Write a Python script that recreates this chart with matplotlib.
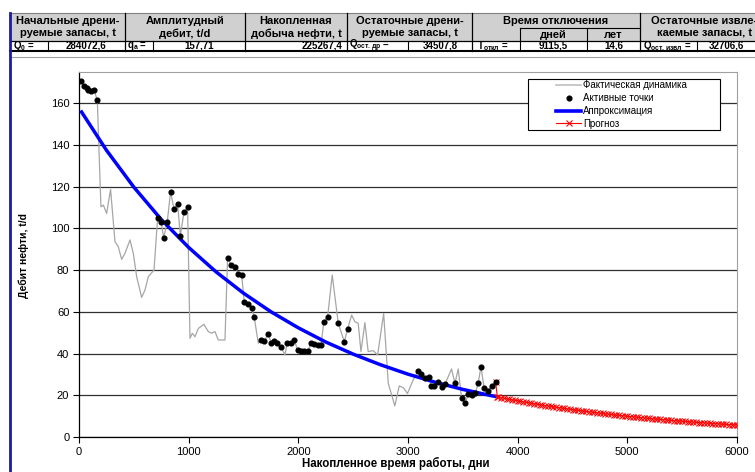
import numpy as np
import matplotlib.pyplot as plt
from matplotlib.lines import Line2D
from matplotlib.patches import Rectangle

plt.rcParams['font.family'] = ['Liberation Sans', 'DejaVu Sans']
plt.rcParams['mathtext.fontset'] = 'custom'
plt.rcParams['mathtext.rm'] = 'Liberation Sans'
plt.rcParams['mathtext.it'] = 'Liberation Sans:italic'
plt.rcParams['mathtext.bf'] = 'Liberation Sans:bold'

# фактическая динамика (сутки, т/сут)
fact_days = [15, 45, 70, 85, 109, 137, 167, 200, 222, 252, 288, 328, 358, 389, 419, 465,
             495, 526, 571, 602, 632, 684, 717, 750, 772, 805, 835, 866, 899, 924, 957, 990,
             1012, 1033, 1057, 1088, 1139, 1179, 1209, 1240, 1270, 1331, 1355, 1386, 1422,
             1453, 1483, 1507, 1541, 1574, 1598, 1635, 1659, 1689, 1726, 1750, 1777, 1808,
             1841, 1878, 1899, 1930, 1963, 1993, 2024, 2054, 2090, 2115, 2145, 2176, 2206,
             2233, 2267, 2309, 2364, 2419, 2449, 2486, 2516, 2546, 2571, 2607, 2637, 2683,
             2723, 2778, 2820, 2880, 2920, 2960, 2995, 3047, 3090, 3122, 3154, 3188, 3212,
             3240, 3276, 3306, 3339, 3397, 3428, 3458, 3489, 3522, 3549, 3580, 3613, 3640,
             3665, 3695, 3729, 3762, 3798]
fact_rate = [170.7, 168.3, 167.0, 166.2, 165.9, 166.2, 161.3, 110.3, 111.1, 107.1, 118.6, 93.6,
             91.2, 85.1, 88.0, 94.4, 88.0, 76.8, 66.9, 70.4, 76.8, 80.0, 105.1, 102.8, 95.3,
             103.2, 117.5, 109.2, 111.8, 96.4, 107.6, 110.0, 47.3, 49.7, 48.0, 52.0, 54.0, 50.5,
             49.7, 50.5, 46.5, 46.5, 85.9, 82.2, 81.3, 78.1, 77.8, 64.5, 63.7, 61.6, 57.3, 44.9,
             46.5, 46.0, 49.3, 45.2, 46.0, 44.9, 43.3, 39.3, 45.2, 45.2, 46.5, 41.7, 41.4, 41.2,
             41.4, 44.9, 44.4, 44.1, 43.9, 55.2, 57.6, 77.6, 54.5, 45.7, 51.7, 58.4, 55.2, 54.5,
             40.9, 54.8, 40.9, 41.4, 39.3, 59.2, 25.7, 14.9, 24.5, 23.5, 20.8, 27.3, 31.6, 30.3,
             28.5, 28.9, 24.4, 24.4, 26.4, 24.1, 25.5, 32.6, 25.7, 32.6, 18.5, 16.1, 20.8, 20.0,
             20.9, 25.7, 33.7, 23.3, 22.2, 24.5, 26.5]

# активные точки
active_days = [15, 45, 70, 85, 109, 137, 167, 717, 750, 772, 805, 835, 866, 899, 924, 957, 990,
               1355, 1386, 1422, 1453, 1483, 1507, 1541, 1574, 1598, 1659, 1689, 1726, 1750,
               1777, 1808, 1841, 1899, 1930, 1963, 1993, 2024, 2054, 2090, 2115, 2145, 2176,
               2206, 2233, 2267, 2364, 2419, 2449, 3090, 3122, 3154, 3188, 3212, 3240, 3276,
               3306, 3339, 3428, 3489, 3522, 3549, 3580, 3613, 3640, 3665, 3695, 3729, 3762, 3798]
active_rate = [170.7, 168.3, 167.0, 166.2, 165.9, 166.2, 161.3, 105.1, 102.8, 95.3, 103.2, 117.5,
               109.2, 111.8, 96.4, 107.6, 110.0, 85.9, 82.2, 81.3, 78.1, 77.8, 64.5, 63.7, 61.6,
               57.3, 46.5, 46.0, 49.3, 45.2, 46.0, 44.9, 43.3, 45.2, 45.2, 46.5, 41.7, 41.4, 41.2,
               41.4, 44.9, 44.4, 44.1, 43.9, 55.2, 57.6, 54.5, 45.7, 51.7, 31.6, 30.3, 28.5, 28.9,
               24.4, 24.4, 26.4, 24.1, 25.5, 25.7, 18.5, 16.1, 20.8, 20.0, 20.9, 25.7, 33.7, 23.3,
               22.2, 24.5, 26.5]

# аппроксимация
approx_days = [15, 250, 500, 750, 1000, 1250, 1500, 1750, 2000, 2250, 2500, 2750, 3000, 3250,
               3500, 3750, 3810]
approx_rate = [156.4, 137.4, 119.7, 104.2, 90.8, 79.1, 68.9, 60.0, 52.3, 45.5, 39.7, 34.6, 30.1,
               26.2, 22.8, 19.9, 19.3]

# прогноз (шаг 25 сут)
fc_days = [3798, 3815] + list(range(3825, 6001, 25))
fc_rate = [26.5, 19.2,
           19.09, 18.83, 18.57, 18.31, 18.06, 17.81, 17.57, 17.32, 17.08, 16.85, 16.62, 16.39,
           16.17, 15.94, 15.72, 15.50, 15.29, 15.08, 14.87, 14.66, 14.46, 14.26, 14.06, 13.87,
           13.68, 13.49, 13.30, 13.12, 12.94, 12.76, 12.58, 12.41, 12.24, 12.07, 11.90, 11.74,
           11.58, 11.42, 11.26, 11.11, 10.95, 10.80, 10.65, 10.51, 10.36, 10.22, 10.08, 9.94,
           9.80, 9.67, 9.53, 9.40, 9.27, 9.14, 9.02, 8.89, 8.77, 8.65, 8.53, 8.41, 8.30, 8.18,
           8.07, 7.96, 7.85, 7.74, 7.63, 7.53, 7.43, 7.32, 7.22, 7.12, 7.03, 6.93, 6.83, 6.74,
           6.65, 6.55, 6.46, 6.37, 6.29, 6.20, 6.11, 6.03, 5.95, 5.86, 5.78, 5.70]

# шапка таблицы
head_titles = [("Начальные дрени-", "руемые запасы, t"), ("Амплитудный", "дебит, t/d"),
               ("Накопленная", "добыча нефти, t"), ("Остаточные дрени-", "руемые запасы, t"),
               ("Время отключения", ""), ("Остаточные извле-", "каемые запасы, t")]
head_centers = [67.5, 185, 296, 409.5, 556, 704.5]
value_labels = [r"Q$_\mathbf{0}$ =", r"q$_\mathbf{a}$ =", r"Q$_\mathbf{ост.др}$ =",
                r"T$_\mathbf{откл}$ =", r"Q$_\mathbf{ост.извл}$ ="]
value_label_x = [13, 127, 349, 477, 643]
values = ["284072,6", "157,71", "225267,4", "34507,8", "9115,5", "14,6", "32706,6"]
values_x = [86.5, 199, 343, 440, 553.5, 613.5, 726]

W, H = 755, 472
fig = plt.figure(figsize=(W / 100, H / 100), dpi=100)


def fx(px):
    return px / W


def fy(py):
    return 1 - py / H


def hline(y, x0, x1, **kw):
    fig.add_artist(Line2D([fx(x0), fx(x1)], [fy(y), fy(y)], **kw))


def vline(x, y0, y1, **kw):
    fig.add_artist(Line2D([fx(x), fx(x)], [fy(y0), fy(y1)], **kw))


# таблица
fig.add_artist(Rectangle((fx(10), fy(41)), fx(755) - fx(10), fy(13) - fy(41),
                         facecolor='#d0d0d0', edgecolor='none'))
hline(13, 10, 755, color='#808080', lw=0.8)
hline(41, 10, 755, color='black', lw=0.9)
hline(50.5, 10, 755, color='black', lw=1.5)
hline(28, 520, 640, color='black', lw=0.8)
for x in [125, 245, 347, 472, 640]:
    vline(x, 13, 50.5, color='black', lw=0.9)
for x in [48, 153, 408, 697]:
    vline(x, 41, 50.5, color='black', lw=0.8)
vline(520, 28, 50.5, color='black', lw=0.8)
vline(587, 28, 50.5, color='black', lw=0.8)
hline(57, 11, 755, color='#a0a0a0', lw=0.8)
vline(10, 13, 472, color='#1c1c9c', lw=2)

for (t1, t2), cx in zip(head_titles, head_centers):
    fig.text(fx(cx), fy(20.5), t1, ha='center', va='center', fontsize=8, fontweight='bold')
    if t2:
        fig.text(fx(cx), fy(33.5), t2, ha='center', va='center', fontsize=8, fontweight='bold')
fig.text(fx(553.5), fy(34.5), "дней", ha='center', va='center', fontsize=8, fontweight='bold')
fig.text(fx(613.5), fy(34.5), "лет", ha='center', va='center', fontsize=8, fontweight='bold')

for lab, x in zip(value_labels, value_label_x):
    fig.text(fx(x), fy(46), lab, ha='left', va='center', fontsize=7, fontweight='bold')
for i, (v, x) in enumerate(zip(values, values_x)):
    fig.text(fx(x), fy(46), v, ha='right' if i == 2 else 'center', va='center',
             fontsize=7, fontweight='bold')

# график
ax = fig.add_axes([fx(79), fy(437), (737 - 79) / W, (437 - 71.7) / H])
ax.plot(fact_days, fact_rate, color='#a6a6a6', lw=0.9, zorder=2)
ax.plot(active_days, active_rate, 'o', color='black', ms=3.4, zorder=4)
ax.plot(approx_days, approx_rate, color='#0000ff', lw=2.5, zorder=3, solid_capstyle='butt')
ax.plot(fc_days, fc_rate, color='red', lw=0.8, marker='x', ms=4.5, mew=0.7, zorder=3)

ax.set_xlim(0, 6000)
ax.set_ylim(0, 175)
ax.set_xticks(np.arange(0, 6001, 1000))
ax.set_yticks(np.arange(0, 161, 20))
ax.grid(axis='y', color='#303030', lw=0.9)
ax.set_axisbelow(True)
for s in ['top', 'right']:
    ax.spines[s].set_color('#a0a0a0')
for s in ['left', 'bottom']:
    ax.spines[s].set_color('black')
    ax.spines[s].set_linewidth(0.9)
ax.tick_params(direction='out', length=4, width=0.8, labelsize=8, pad=3)

fig.text(fx(23.5), fy(255), 'Дебит нефти, t/d', rotation=90, ha='center', va='center',
         fontsize=7.5, fontweight='bold')
fig.text(fx(396), fy(463), 'Накопленное время работы, дни', ha='center', va='center',
         fontsize=8.3, fontweight='bold')

# легенда: рамка отдельно, записи без рамки
fig.add_artist(Rectangle((fx(528), fy(130)), fx(720) - fx(528), fy(79.3) - fy(130),
                         facecolor='white', edgecolor='black', lw=0.8, zorder=5))
handles = [Line2D([], [], color='#c0c0c0', lw=1.2),
           Line2D([], [], ls='none', marker='o', color='black', ms=3.4),
           Line2D([], [], color='#0000ff', lw=2.6),
           Line2D([], [], color='red', lw=0.8, marker='x', ms=4, mew=0.8)]
labels = ['Фактическая динамика', 'Активные точки', 'Аппроксимация', 'Прогноз']
leg = fig.legend(handles, labels, loc='upper left', bbox_to_anchor=(fx(556), fy(80.5)),
                 fontsize=7, frameon=False, borderpad=0, handlelength=2.6,
                 handletextpad=0.2, labelspacing=0.28, borderaxespad=0)
leg.set_zorder(6)

fig.savefig('out.png', dpi=100)
